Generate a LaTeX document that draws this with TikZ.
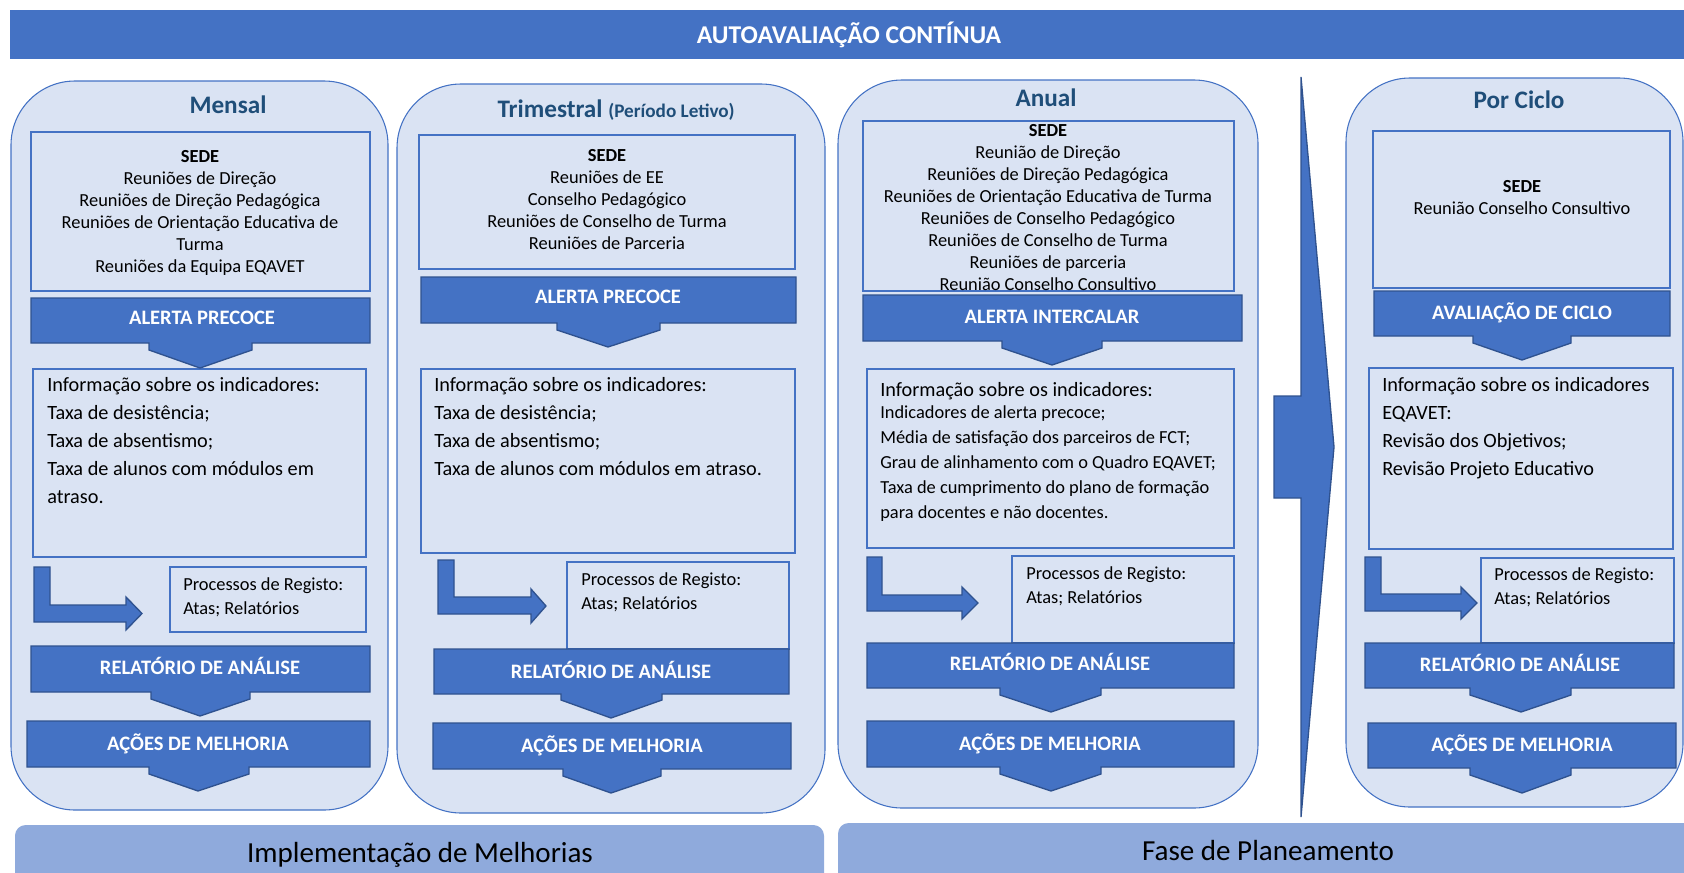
\documentclass[tikz,border=0pt]{standalone}
\usepackage{fontspec}
\setmainfont{Carlito}

\definecolor{blueMain}{HTML}{4472C4}
\definecolor{bandLine}{HTML}{2F528F}
\definecolor{panelFill}{HTML}{DAE3F3}
\definecolor{titleBlue}{HTML}{1F4E79}
\definecolor{phaseFill}{HTML}{8FAADC}

\begin{document}
\begin{tikzpicture}[x=0.75pt,y=-0.75pt,
        panel/.style={draw=blueMain,line width=0.8pt,fill=panelFill,rounded corners=48pt},
        box/.style={draw=blueMain,line width=1.2pt},
        band/.style={draw=bandLine,line width=1pt,fill=blueMain},
        bandtxt/.style={anchor=base,text=white,inner sep=0pt,font=\fontsize{15.4}{18}\selectfont\bfseries},
        toptxt/.style={anchor=base,text=white,inner sep=0pt,font=\fontsize{19.2}{22}\selectfont\bfseries},
        ptitle/.style={anchor=base,text=titleBlue,inner sep=0pt,font=\fontsize{18.9}{22}\selectfont\bfseries},
        sede/.style={align=center,inner sep=0pt,font=\fontsize{13.8}{16.5}\selectfont},
        info/.style={anchor=north west,align=left,inner sep=0pt,execute at begin node=\strut,font=\fontsize{15.2}{21}\selectfont},
        small/.style={anchor=north west,align=left,inner sep=0pt,execute at begin node=\strut,font=\fontsize{13.8}{18}\selectfont},
        phase/.style={fill=phaseFill,rounded corners=8pt},
        phasetxt/.style={anchor=base,inner sep=0pt,font=\fontsize{21.8}{26}\selectfont}]
                \useasboundingbox (0,0) rectangle (1684,872);
                \clip (0,0) rectangle (1684,872);
                % title bar
                \fill[blueMain] (10,10) rectangle (1684,59);
                \node[toptxt] (topo) at (849,43) {AUTOAVALIAÇÃO CONTÍNUA};
                % the four columns
                \draw[panel] (11,81) rectangle (388,810);
                \draw[panel] (397,84) rectangle (825,813);
                \draw[panel] (838,80) rectangle (1258,808);
                \draw[panel] (1346,78) rectangle (1683,807);
                \node[ptitle] (mTit) at (228,113) {Mensal};
                \node[ptitle] (tTit) at (616,117) {Trimestral {\fontsize{14.4}{17}\selectfont(Período Letivo)}};
                \node[ptitle] (aTit) at (1046,106) {Anual};
                \node[ptitle] (pTit) at (1519,108) {Por Ciclo};
                % big arrow between Anual and Por Ciclo
                \draw[band] (1274,396) -- (1301,396) -- (1301,77) -- (1334,447) -- (1301,817) -- (1301,498) -- (1274,498) -- cycle;
                % boxes
                \draw[box] (31,132) rectangle (370,291);
                \draw[box] (419,135) rectangle (795,269);
                \draw[box] (863,121) rectangle (1234,291);
                \draw[box] (1373,131) rectangle (1670,288);
                \draw[box] (33,369) rectangle (366,557);
                \draw[box] (421,369) rectangle (795,553);
                \draw[box] (867,369) rectangle (1234,548);
                \draw[box] (1369,368) rectangle (1673,549);
                \draw[box] (170,567) rectangle (366,632);
                \draw[box] (567,562) rectangle (789,649);
                \draw[box] (1012,556) rectangle (1234,643);
                \draw[box] (1481,558) rectangle (1674,643);
                % SEDE
                \node[sede] (mSede) at (200,213) {\textbf{SEDE}\\Reuniões de Direção\\Reuniões de Direção Pedagógica\\Reuniões de Orientação Educativa de\\Turma\\Reuniões da Equipa EQAVET};
                \node[sede] (tSede) at (607,200) {\textbf{SEDE}\\Reuniões de EE\\Conselho Pedagógico\\Reuniões de Conselho de Turma\\Reuniões de Parceria};
                \node[sede] (aSede) at (1048,208) {\textbf{SEDE}\\Reunião de Direção\\Reuniões de Direção Pedagógica\\Reuniões de Orientação Educativa de Turma\\Reuniões de Conselho Pedagógico\\Reuniões de Conselho de Turma\\Reuniões de parceria\\Reunião Conselho Consultivo};
                \node[sede] (pSede) at (1522,198) {\textbf{SEDE}\\Reunião Conselho Consultivo};
                % bent arrows
                \draw[band] (34,567) -- (50,567) -- (50,605) -- (126,605) -- (126,597) -- (142,613.5) -- (126,630) -- (126,622) -- (34,622) -- cycle;
                \draw[band] (438,560) -- (454,560) -- (454,597) -- (531,597) -- (531,589) -- (546,606) -- (531,623) -- (531,614) -- (438,614) -- cycle;
                \draw[band] (867,557) -- (882,557) -- (882,595) -- (962,595) -- (962,587) -- (978,603) -- (962,619) -- (962,611) -- (867,611) -- cycle;
                \draw[band] (1365,557) -- (1381,557) -- (1381,594) -- (1461,594) -- (1461,587) -- (1477,603) -- (1461,619) -- (1461,611) -- (1365,611) -- cycle;
                % indicators
                \node[info] (mInfo) at (47,377) {Informação sobre os indicadores:\\Taxa de desistência;\\Taxa de absentismo;\\Taxa de alunos com módulos em\\atraso.};
                \node[info] (tInfo) at (434,377) {Informação sobre os indicadores:\\Taxa de desistência;\\Taxa de absentismo;\\Taxa de alunos com módulos em atraso.};
                \node[info] (aInfo) at (880,377) {Informação sobre os indicadores:};
                \node[small,font=\fontsize{13.8}{18.75}\selectfont] (aInd) at (880,405) {Indicadores de alerta precoce;\\Média de satisfação dos parceiros de FCT;\\Grau de alinhamento com o Quadro EQAVET;\\Taxa de cumprimento do plano de formação\\para docentes e não docentes.};
                \node[info] (pInfo) at (1382,377) {Informação sobre os indicadores\\EQAVET:\\Revisão dos Objetivos;\\Revisão Projeto Educativo};
                \node[small] (mReg) at (183,577) {Processos de Registo:\\Atas; Relatórios};
                \node[small] (tReg) at (581,572) {Processos de Registo:\\Atas; Relatórios};
                \node[small] (aReg) at (1026,566) {Processos de Registo:\\Atas; Relatórios};
                \node[small] (pReg) at (1494,567) {Processos de Registo:\\Atas; Relatórios};
                % alert bands
                \draw[band] (31,298) -- (370,298) -- (370,343) -- (252,343) -- (252,350) -- (200,368) -- (149,350) -- (149,343) -- (31,343) -- cycle;
                \draw[band] (421,277) -- (796,277) -- (796,323) -- (660,323) -- (660,330) -- (608,347) -- (557,330) -- (557,323) -- (421,323) -- cycle;
                \draw[band] (863,295) -- (1242,295) -- (1242,341) -- (1102,341) -- (1102,348) -- (1052,365) -- (1002,348) -- (1002,341) -- (863,341) -- cycle;
                \draw[band] (1374,291) -- (1670,291) -- (1670,336) -- (1571,336) -- (1571,343) -- (1522,360) -- (1473,343) -- (1473,336) -- (1374,336) -- cycle;
                \node[bandtxt] (mAlerta) at (202,324) {ALERTA PRECOCE};
                \node[bandtxt] (tAlerta) at (608,303) {ALERTA PRECOCE};
                \node[bandtxt] (aAlerta) at (1052,323) {ALERTA INTERCALAR};
                \node[bandtxt] (pAval) at (1522,319) {AVALIAÇÃO DE CICLO};
                % report bands
                \draw[band] (31,646) -- (370,646) -- (370,692) -- (250,692) -- (250,699) -- (200,716) -- (151,699) -- (151,692) -- (31,692) -- cycle;
                \draw[band] (434,649) -- (789,649) -- (789,694) -- (662,694) -- (662,700) -- (611,718) -- (561,700) -- (561,694) -- (434,694) -- cycle;
                \draw[band] (867,643) -- (1234,643) -- (1234,688) -- (1101,688) -- (1101,695) -- (1051,712) -- (1000,695) -- (1000,688) -- (867,688) -- cycle;
                \draw[band] (1365,643) -- (1674,643) -- (1674,688) -- (1571,688) -- (1571,695) -- (1521,712) -- (1470,695) -- (1470,688) -- (1365,688) -- cycle;
                \node[bandtxt] (mRel) at (200,674) {RELATÓRIO DE ANÁLISE};
                \node[bandtxt] (tRel) at (611,678) {RELATÓRIO DE ANÁLISE};
                \node[bandtxt] (aRel) at (1050,670) {RELATÓRIO DE ANÁLISE};
                \node[bandtxt] (pRel) at (1520,671) {RELATÓRIO DE ANÁLISE};
                % improvement bands
                \draw[band] (27,721) -- (370,721) -- (370,767) -- (249,767) -- (249,774) -- (198,791) -- (149,774) -- (149,767) -- (27,767) -- cycle;
                \draw[band] (433,723) -- (791,723) -- (791,769) -- (661,769) -- (661,776) -- (611,793) -- (563,776) -- (563,769) -- (433,769) -- cycle;
                \draw[band] (867,721) -- (1234,721) -- (1234,767) -- (1101,767) -- (1101,774) -- (1051,791) -- (1000,774) -- (1000,767) -- (867,767) -- cycle;
                \draw[band] (1368,723) -- (1676,723) -- (1676,768) -- (1571,768) -- (1571,775) -- (1522,793) -- (1470,775) -- (1470,768) -- (1368,768) -- cycle;
                \node[bandtxt] (mAcoes) at (198,750) {AÇÕES DE MELHORIA};
                \node[bandtxt] (tAcoes) at (612,752) {AÇÕES DE MELHORIA};
                \node[bandtxt] (aAcoes) at (1050,750) {AÇÕES DE MELHORIA};
                \node[bandtxt] (pAcoes) at (1522,751) {AÇÕES DE MELHORIA};
                % phases
                \fill[phase] (15,825) rectangle (824,900);
                \fill[phase] (838,823) rectangle (1720,900);
                \node[phasetxt] (impl) at (420,862) {Implementação de Melhorias};
                \node[phasetxt] (plan) at (1268,860) {Fase de Planeamento};
            \end{tikzpicture}
\end{document}
